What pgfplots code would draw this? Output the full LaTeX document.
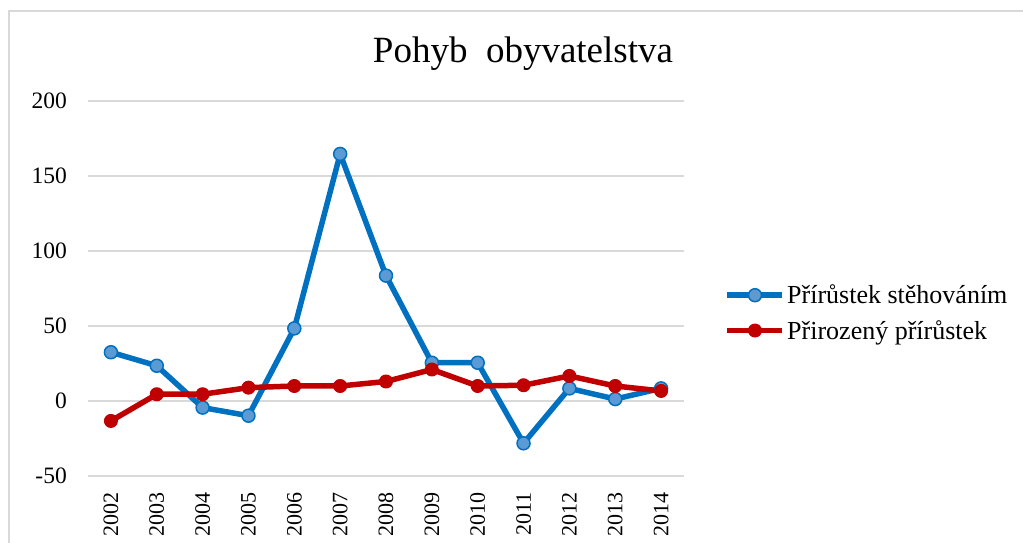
\documentclass[border=0pt]{standalone}
\usepackage{fontspec}
\setmainfont{Liberation Serif}
\usepackage{pgfplots}
\pgfplotsset{compat=1.18}
\definecolor{blueline}{HTML}{0070C0}
\definecolor{bluefill}{HTML}{5B9BD5}
\definecolor{redline}{HTML}{C00000}
\definecolor{gridgray}{HTML}{D9D9D9}
\begin{document}
\begin{tikzpicture}[x=1pt,y=1pt]
\useasboundingbox (0,0) rectangle (1023,543);
\draw[gridgray, line width=1.5pt] (9,0) -- (9,532) -- (1023,532);
\node[anchor=base, inner sep=0pt, font=\fontsize{37}{40}\selectfont] at (523,480) {Pohyb\ \ obyvatelstva};
\begin{axis}[
  at={(88pt,67pt)}, anchor=south west,
  scale only axis, width=596pt, height=375pt,
  xmin=-0.5, xmax=12.5, ymin=-50, ymax=200,
  ytick={-50,0,50,100,150,200},
  xtick={0,1,2,3,4,5,6,7,8,9,10,11,12},
  xticklabels={2002,2003,2004,2005,2006,2007,2008,2009,2010,2011,2012,2013,2014},
  axis line style={draw=none},
  major tick length=0pt,
  ymajorgrids, grid style={gridgray, line width=1.5pt},
  /pgf/number format/assume math mode=true,
  yticklabel style={font=\fontsize{23.5}{25}\selectfont, anchor=east, inner sep=0pt, xshift=-21pt},
  xticklabel style={font=\fontsize{22}{24}\selectfont, yshift=-16pt, rotate=90, anchor=east, inner sep=0pt},
  legend style={at={(1.068,0.435)}, anchor=west, draw=none, fill=none,
    font=\fontsize{26}{28}\selectfont, row sep=11pt, inner sep=0pt},
  legend cell align=left,
  legend image code/.code={\draw[#1,mark repeat=2,mark phase=2] plot coordinates {(0pt,0pt) (27.5pt,0pt) (55pt,0pt)};},
  clip=false,
]
\addplot[blueline, line width=5.5pt, line join=round, mark=*, mark size=6.5pt,
  mark options={fill=bluefill, draw=blueline, line width=1.5pt}]
  coordinates {(0,32.5) (1,23.5) (2,-4.4) (3,-9.8) (4,48.4) (5,164.7) (6,83.6)
               (7,25.5) (8,25.5) (9,-28.2) (10,8.4) (11,1.3) (12,8.4)};
\addlegendentry{Přírůstek stěhováním}
\addplot[redline, line width=5.5pt, line join=round, mark=*, mark size=6.5pt,
  mark options={fill=redline, draw=redline, line width=1pt}]
  coordinates {(0,-13.3) (1,4.5) (2,4.5) (3,8.9) (4,10) (5,10) (6,13)
               (7,21) (8,10) (9,10.5) (10,16.7) (11,10) (12,6.7)};
\addlegendentry{Přirozený přírůstek}
\end{axis}
\end{tikzpicture}
\end{document}
